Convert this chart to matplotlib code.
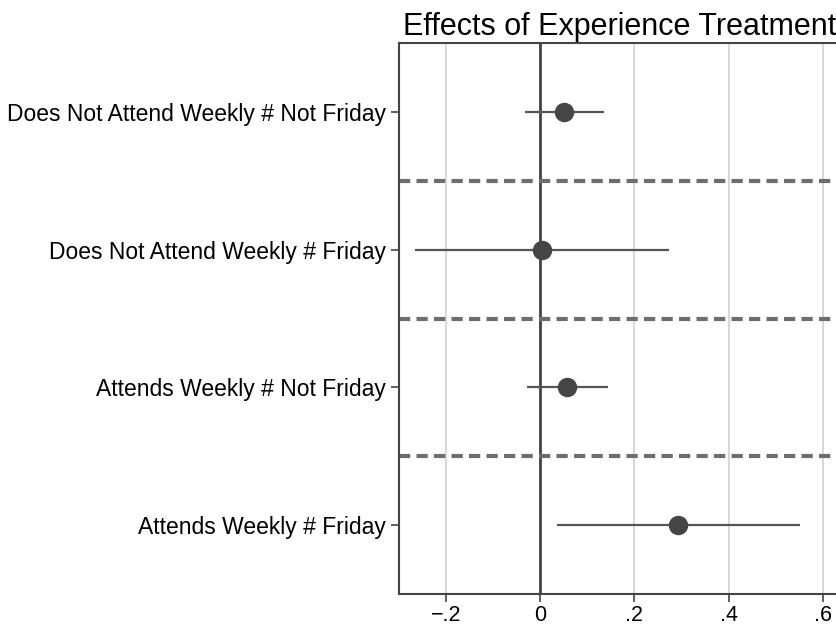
import matplotlib
matplotlib.use("Agg")
from matplotlib import pyplot as plt

# data
labels = ['Does Not Attend Weekly # Not Friday',
          'Does Not Attend Weekly # Friday',
          'Attends Weekly # Not Friday',
          'Attends Weekly # Friday']
estimates = [0.051, 0.004, 0.057, 0.292]
ci_low = [-0.032, -0.265, -0.028, 0.035]
ci_high = [0.135, 0.273, 0.144, 0.552]
xticks = [-0.2, 0, 0.2, 0.4, 0.6]
xticklabels = ['\u2212.2', '0', '.2', '.4', '.6']

plt.rcParams['font.family'] = ['Liberation Sans', 'DejaVu Sans']

fig = plt.figure(figsize=(8.37, 6.29), dpi=100)
ax = fig.add_axes([0.4767, 0.0556, 0.527, 0.876])

ypos = list(range(1, len(labels) + 1))

for x in xticks:
    ax.axvline(x, color='#d9d9d9', lw=1.5, zorder=0)
ax.axvline(0, color='#444444', lw=2, zorder=1)

for y in ypos[:-1]:
    ax.axhline(y + 0.5, color='#6e6e6e', lw=3, ls=(0, (2.7, 1.5)), zorder=1)

ax.hlines(ypos, ci_low, ci_high, color='#555555', lw=1.6, zorder=2)
ax.plot(estimates, ypos, 'o', color='#454545', markersize=13, zorder=3)

ax.set_xlim(-0.3, 0.637)
ax.set_ylim(4.5, 0.5)
ax.set_yticks(ypos)
ax.set_yticklabels(labels, fontsize=16.5)
ax.set_xticks(xticks)
ax.set_xticklabels(xticklabels, fontsize=15.5)
ax.tick_params(axis='both', length=6, width=1.2, color='#444444')
ax.tick_params(axis='x', pad=2)

for s in ax.spines.values():
    s.set_color('#444444')
    s.set_linewidth(1.5)

ax.set_title('Effects of Experience Treatment', fontsize=22, pad=6)

fig.savefig('out.png', dpi=100)
